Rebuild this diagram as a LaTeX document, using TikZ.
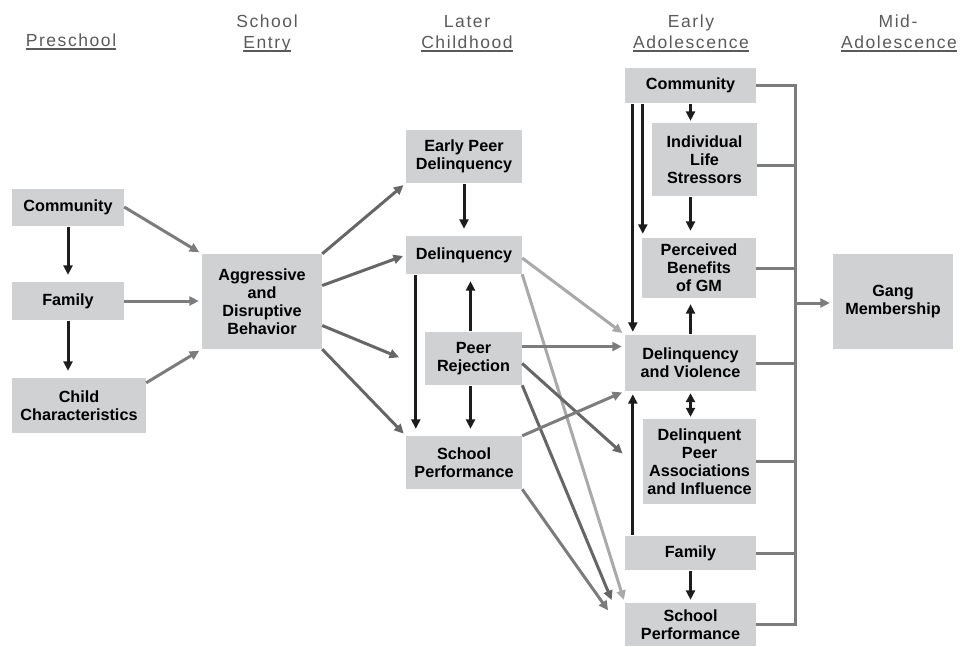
\documentclass[tikz,border=0pt]{standalone}
\usepackage{fontspec}
\setmainfont{Liberation Sans}
\newfontfamily\headfont[LetterSpace=9]{Liberation Sans}
\usetikzlibrary{arrows.meta}
\definecolor{boxgray}{HTML}{D0D1D3}
\definecolor{headgray}{HTML}{5A5A5A}
\definecolor{arrowblack}{HTML}{1C1C1C}
\definecolor{arrowgray}{HTML}{7C7C7C}
\definecolor{arrowdark}{HTML}{666666}
\definecolor{arrowlight}{HTML}{A9A9A9}
\newcommand{\hul}[1]{\setbox0\hbox{#1}\rlap{\rule[-3.5pt]{\wd0}{1.8pt}}\box0}
\tikzset{
  box/.style={fill=boxgray, inner sep=0pt, align=center, font=\bfseries\fontsize{16.2}{18}\selectfont},
  head/.style={anchor=base, text=headgray, font=\headfont\fontsize{17.5}{20}\selectfont},
  blackarrow/.style={draw=arrowblack, line width=3pt, -{Triangle[length=9.5pt,width=9pt]}, shorten >=7pt, shorten <=1pt},
  grayarrow/.style={draw=arrowgray, line width=3pt, -{Triangle[length=9.5pt,width=9pt]}, shorten >=3pt},
  darkarrow/.style={grayarrow, draw=arrowdark},
  lightarrow/.style={grayarrow, draw=arrowlight},
  bracket/.style={draw=arrowgray, line width=3pt}
}
\begin{document}
\begin{tikzpicture}[x=1pt,y=-1pt]
\useasboundingbox (0,0) rectangle (965,646);
\node[head] (hpre) at (71,46) {\hul{Preschool}};
\node[head] (hse1) at (267,27) {School};
\node[head] (hse2) at (267,48) {\hul{Entry}};
\node[head] (hlc1) at (467,27) {Later};
\node[head] (hlc2) at (467,48) {\hul{Childhood}};
\node[head] (hea1) at (691,27) {Early};
\node[head] (hea2) at (691,48) {\hul{Adolescence}};
\node[head] (hma1) at (898,27) {Mid-};
\node[head] (hma2) at (899,48) {\hul{Adolescence}};

\node[box, minimum width=112pt, minimum height=37pt] (pcom) at (68,207) {Community};
\node[box, minimum width=112pt, minimum height=38pt] (pfam) at (68,301) {Family};
\node[box, minimum width=134pt, minimum height=55pt] (pchild) at (79,405.5) {Child\\Characteristics};
\node[box, minimum width=120pt, minimum height=95pt] (aggr) at (262,301.5) {Aggressive\\and\\Disruptive\\Behavior};
\node[box, minimum width=116pt, minimum height=53pt] (epd) at (464,156.5) {Early Peer\\Delinquency};
\node[box, minimum width=116pt, minimum height=38pt] (del) at (464,255) {Delinquency};
\node[box, minimum width=97pt, minimum height=53pt] (prej) at (473.5,358.5) {Peer\\Rejection};
\node[box, minimum width=116pt, minimum height=53pt] (sperf) at (464,462.5) {School\\Performance};
\node[box, minimum width=131pt, minimum height=35pt] (ecom) at (690.5,85.5) {Community};
\node[box, minimum width=105pt, minimum height=73pt] (ils) at (704.5,159.5) {Individual\\Life\\Stressors};
\node[box, minimum width=114pt, minimum height=60pt] (pben) at (699,268) {Perceived\\Benefits\\of GM};
\node[box, minimum width=131pt, minimum height=56pt] (dv) at (690.5,363) {Delinquency\\and Violence};
\node[box, minimum width=113pt, minimum height=85pt] (dpa) at (699.5,461.5) {Delinquent\\Peer\\Associations\\and Influence};
\node[box, minimum width=131pt, minimum height=34pt] (efam) at (690.5,553) {Family};
\node[box, minimum width=131pt, minimum height=43pt] (esp) at (690.5,624.5) {School\\Performance};
\node[box, minimum width=120pt, minimum height=95pt] (gang) at (893,301.5) {Gang\\Membership};

\draw[blackarrow] (pcom) -- (pfam);
\draw[blackarrow] (pfam.south) -- (pfam.south |- pchild.north);
\draw[blackarrow] (epd) -- (del);
\draw[blackarrow] ([xshift=10pt]del.south west) -- ([xshift=10pt]sperf.north west);
\draw[blackarrow] ([xshift=-3pt]prej.north) -- ([xshift=-3pt]prej.north |- del.south);
\draw[blackarrow] ([xshift=-3pt]prej.south) -- ([xshift=-3pt]prej.south |- sperf.north);
\draw[blackarrow, shorten >=2pt] (ecom.south) -- (ecom.south |- ils.north);
\draw[blackarrow, shorten >=4pt] ([xshift=18pt]ecom.south west) -- ([xshift=18pt]ecom.south west |- pben.north);
\draw[blackarrow, shorten >=3pt] ([xshift=8pt]ecom.south west) -- ([xshift=8pt]dv.north west);
\draw[blackarrow] (ils.south -| ecom.south) -- (pben.north -| ecom.south);
\draw[blackarrow, shorten >=6pt] (dv.north) -- (dv.north |- pben.south);
\draw[blackarrow, {Triangle[length=9pt,width=9pt]}-{Triangle[length=9pt,width=9pt]}, shorten >=2pt, shorten <=2pt] (dv.south) -- (dv.south |- dpa.north);
\draw[blackarrow, shorten >=3pt] ([xshift=8pt]efam.north west) -- ([xshift=8pt]dv.south west);
\draw[blackarrow, shorten >=3pt] (efam.south) -- (efam.south |- esp.north);

\draw[grayarrow] (pcom.east) -- (aggr.north west);
\draw[grayarrow] (pfam.east) -- (pfam.east -| aggr.west);
\draw[grayarrow] ([yshift=-5pt]pchild.north east) -- (aggr.south west);
\draw[darkarrow] (aggr.north east) -- (epd.south west);
\draw[darkarrow] ([yshift=16pt]aggr.east) -- (del.west);
\draw[darkarrow] ([yshift=-24pt]aggr.east) -- ([xshift=-23pt]prej.west);
\draw[darkarrow] (aggr.south east) -- (sperf.north west);
\draw[lightarrow] ([yshift=-3pt]del.east) -- (dv.north west);
\draw[lightarrow] (del.south east) -- (esp.north west);
\draw[grayarrow] ([yshift=12pt]prej.east) -- ([yshift=12pt]prej.east -| dv.west);
\draw[darkarrow] ([yshift=-5pt]prej.east) -- ([xshift=-18pt,yshift=6pt]dpa.west);
\draw[darkarrow] (prej.south east) -- ([xshift=-12pt]esp.north west);
\draw[grayarrow] (sperf.north east) -- (dv.south west);
\draw[grayarrow] (sperf.south east) -- ([xshift=-15pt,yshift=-10pt]esp.north west);

\coordinate (gj) at (795,303);
\foreach \n in {ecom,pben,dv,dpa,efam,esp}
  \draw[bracket] (\n.east) -- (\n.east -| gj);
\draw[bracket] ([yshift=-6pt]ils.east) -- ([yshift=-6pt]ils.east -| gj);
\draw[bracket, line cap=rect] (ecom.east -| gj) -- (esp.east -| gj);
\draw[grayarrow] (gj) -- (gj -| gang.west);
\end{tikzpicture}
\end{document}
